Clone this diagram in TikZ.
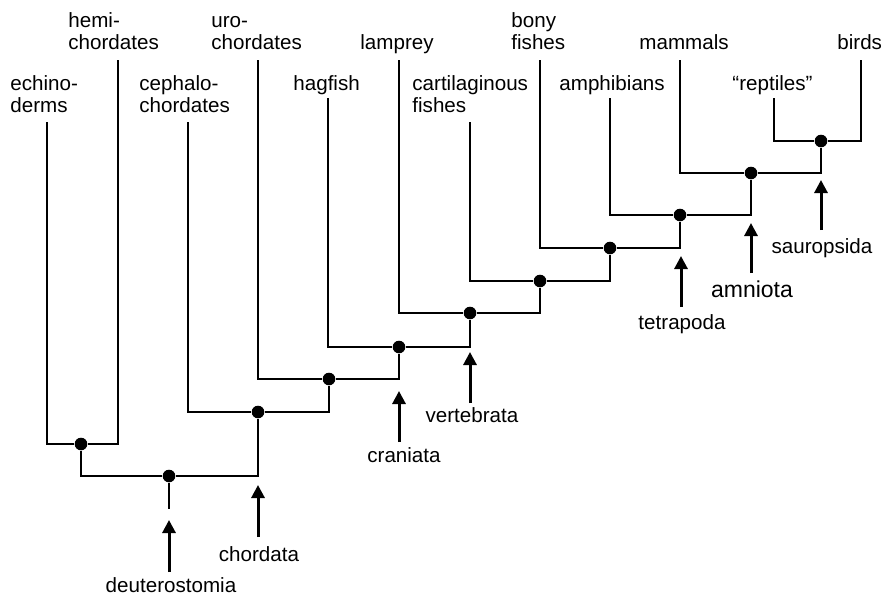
\documentclass[tikz,border=0pt]{standalone}
\usepackage{fontspec}
\setmainfont{Liberation Sans}
\usetikzlibrary{arrows.meta}

\tikzset{
    taxon/.style = {font=\fontsize{10.3}{11}\selectfont, align=left, inner sep=0pt, anchor=base west},
    clade/.style = {font=\fontsize{10.3}{11}\selectfont, inner sep=0pt, anchor=base},
    branch/.style = {line width=1pt},
    split/.style = {circle, fill, inner sep=0pt, minimum size=6.3pt},
    marker/.style = {line width=1.5pt, -{Triangle[width=6.5pt, length=6.5pt]}}
}

\begin{document}
\begin{tikzpicture}[x = 0.5pt, y = -0.5pt]
            \useasboundingbox (0, 0) rectangle (884, 596);

            % taxa
            \node[taxon] (echino) at (10, 112){echino-\\derms};
            \node[taxon] (hemi) at (68, 49){hemi-\\chordates};
            \node[taxon] (cephalo) at (139, 112){cephalo-\\chordates};
            \node[taxon] (uro) at (211, 49){uro-\\chordates};
            \node[taxon] (hagfish) at (293, 90){hagfish};
            \node[taxon] (lamprey) at (360, 49){lamprey};
            \node[taxon] (cartil) at (412, 112){cartilaginous\\fishes};
            \node[taxon] (bony) at (511, 49){bony\\fishes};
            \node[taxon] (amphib) at (559, 90){amphibians};
            \node[taxon] (mammals) at (639, 49){mammals};
            \node[taxon] (reptiles) at (732, 90){``reptiles''};
            \node[taxon] (birds) at (837, 49){birds};

            \coordinate (echino-top) at (47, 122);
            \coordinate (hemi-top) at (118, 60);
            \coordinate (cephalo-top) at (188, 122);
            \coordinate (uro-top) at (258, 60);
            \coordinate (hagfish-top) at (328, 98);
            \coordinate (lamprey-top) at (399, 60);
            \coordinate (cartil-top) at (470, 122);
            \coordinate (bony-top) at (540, 60);
            \coordinate (amphib-top) at (610, 98);
            \coordinate (mammals-top) at (680, 60);
            \coordinate (reptiles-top) at (774, 98);
            \coordinate (birds-top) at (861, 60);

            % splits
            \node[split] (N1) at (81, 444){};
            \node[split] (N2) at (169, 476){};
            \node[split] (N3) at (258, 412){};
            \node[split] (N4) at (329, 379){};
            \node[split] (N5) at (399, 347){};
            \node[split] (N6) at (470, 313){};
            \node[split] (N7) at (540, 281){};
            \node[split] (N8) at (610, 248){};
            \node[split] (N9) at (680, 215){};
            \node[split] (N10) at (751, 173){};
            \node[split] (N11) at (821, 141){};
            \coordinate (root) at (169, 509);

            \draw[branch] (echino-top) |- (N1) -| (hemi-top);
            \draw[branch] (N1) |- (N2) -| (N3);
            \draw[branch] (N2) -- (root);
            \draw[branch] (cephalo-top) |- (N3) -| (N4);
            \draw[branch] (uro-top) |- (N4) -| (N5);
            \draw[branch] (hagfish-top) |- (N5) -| (N6);
            \draw[branch] (lamprey-top) |- (N6) -| (N7);
            \draw[branch] (cartil-top) |- (N7) -| (N8);
            \draw[branch] (bony-top) |- (N8) -| (N9);
            \draw[branch] (amphib-top) |- (N9) -| (N10);
            \draw[branch] (mammals-top) |- (N10) -| (N11);
            \draw[branch] (reptiles-top) |- (N11) -| (birds-top);

            % clades
            \node[clade] (deut) at (171, 592){deuterostomia};
            \node[clade] (chord) at (259, 561){chordata};
            \node[clade] (cran) at (404, 462){craniata};
            \node[clade] (vert) at (472, 422){vertebrata};
            \node[clade] (tetra) at (682, 329){tetrapoda};
            \node[clade, font=\fontsize{11.5}{12}\selectfont] (amnio) at (752, 297){amniota};
            \node[clade] (saur) at (822, 253){sauropsida};

            \coordinate (deut-tail) at (169, 572);
            \coordinate (deut-tip) at (169, 520);
            \coordinate (chord-tail) at (258, 537);
            \coordinate (chord-tip) at (258, 485);
            \coordinate (cran-tail) at (399, 442);
            \coordinate (cran-tip) at (399, 391);
            \coordinate (vert-tail) at (470, 403);
            \coordinate (vert-tip) at (470, 352);
            \coordinate (tetra-tail) at (681, 307);
            \coordinate (tetra-tip) at (681, 256);
            \coordinate (amnio-tail) at (751, 273);
            \coordinate (amnio-tip) at (751, 223);
            \coordinate (saur-tail) at (821, 230);
            \coordinate (saur-tip) at (821, 180);

            \draw[marker] (deut-tail) -- (deut-tip);
            \draw[marker] (chord-tail) -- (chord-tip);
            \draw[marker] (cran-tail) -- (cran-tip);
            \draw[marker] (vert-tail) -- (vert-tip);
            \draw[marker] (tetra-tail) -- (tetra-tip);
            \draw[marker] (amnio-tail) -- (amnio-tip);
            \draw[marker] (saur-tail) -- (saur-tip);
        \end{tikzpicture}
\end{document}
